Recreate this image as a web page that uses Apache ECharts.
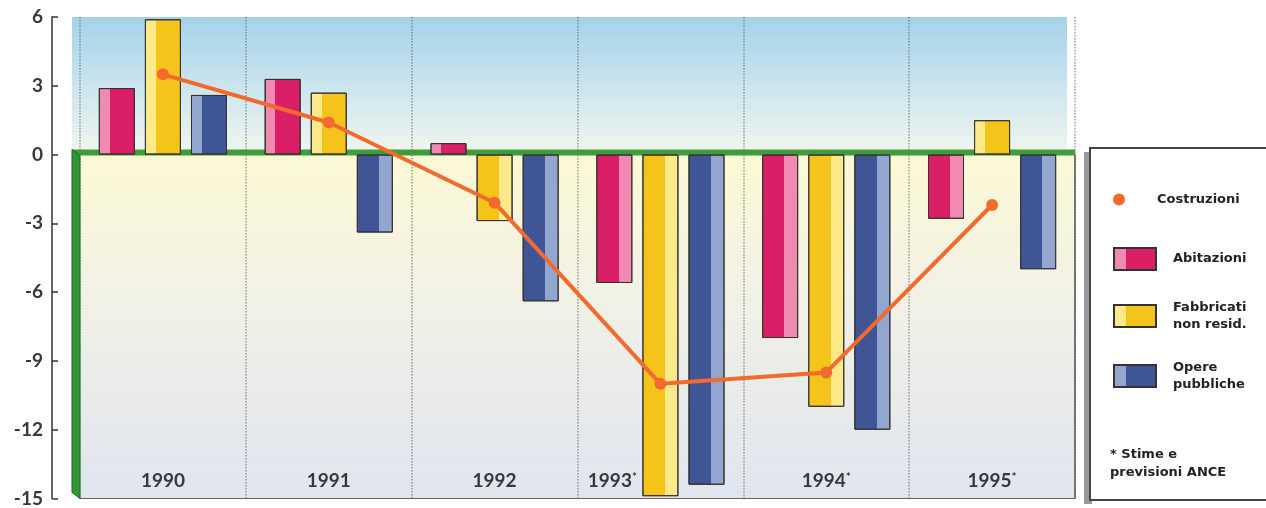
<!DOCTYPE html>
<html>
<head>
<meta charset="utf-8">
<script src="https://cdn.jsdelivr.net/npm/echarts@6/dist/echarts.min.js"></script>
<style>
html,body{margin:0;padding:0;background:#fff}
#main{width:1266px;height:508px}
</style>
</head>
<body>
<div id="main"></div>
<script>
var years = ['1990', '1991', '1992', '1993*', '1994*', '1995*']
var abitazioni = [2.9, 3.3, 0.5, -5.6, -8.0, -2.8]
var fabbricati = [5.9, 2.7, -2.9, -14.9, -11.0, 1.5]
var opere = [2.6, -3.4, -6.4, -14.4, -12.0, -5.0]
var costruzioni = [3.5, 1.4, -2.1, -10.0, -9.5, -2.2]
var yMin = -15, yMax = 6, yStep = 3

var gridLeft = 80, gridRight = 191, gridTop = 17, gridBottom = 6
var font = 'Lato'
var legFont = 'DejaVu Sans'

function shade(light, dark, v) {
  var stops = v >= 0
    ? [{ offset: 0, color: light }, { offset: 0.3, color: light }, { offset: 0.3, color: dark }, { offset: 1, color: dark }]
    : [{ offset: 0, color: dark }, { offset: 0.62, color: dark }, { offset: 0.62, color: light }, { offset: 1, color: light }]
  return { type: 'linear', x: 0, y: 0, x2: 1, y2: 0, colorStops: stops }
}

function bars(name, vals, light, dark) {
  return {
    name: name,
    type: 'bar',
    barWidth: 36,
    barGap: '28%',
    itemStyle: { color: shade(light, dark, 1), borderColor: '#333', borderWidth: 1 },
    data: vals.map(function (v) {
      return { value: v, itemStyle: { color: shade(light, dark, v) } }
    })
  }
}

function legText(n) {
  return n.split(' ').length > 1 && n !== 'Costruzioni'
    ? '{t|' + n.replace(' ', '}\n{t|') + '}'
    : '{t|' + n + '}'
}
var legRich = { t: { fontFamily: legFont, fontWeight: 'bold', fontSize: 13, lineHeight: 17, color: '#222', padding: [0, 0, 0, 12] } }

var chart = echarts.init(document.getElementById('main'))
chart.setOption({
  backgroundColor: '#fff',
  animation: false,
  grid: { left: gridLeft, right: gridRight, top: gridTop, bottom: gridBottom },
  legend: [
    {
      data: ['Costruzioni'],
      left: 1108, top: 188,
      itemWidth: 42, itemHeight: 12,
      icon: 'circle',
      formatter: legText,
      textStyle: { rich: legRich }
    },
    {
      data: ['Abitazioni', 'Fabbricati non resid.', 'Opere pubbliche'],
      orient: 'vertical',
      left: 1108, top: 242,
      itemWidth: 42, itemHeight: 22, itemGap: 30,
      icon: 'rect',
      formatter: legText,
      textStyle: { rich: legRich }
    }
  ],
  xAxis: {
    type: 'category',
    data: years,
    axisLine: { onZero: false, lineStyle: { color: '#666', width: 1 } },
    axisTick: { show: false },
    splitLine: { show: true, lineStyle: { color: 'rgba(80,80,80,0.55)', type: 'dotted', width: 1.5 } },
    axisLabel: {
      inside: true, margin: 8,
      formatter: function (v) {
        var y = v.replace('*', '')
        if (v === '1993*') return '{y|' + y + '}{s2|*}'
        return v.indexOf('*') >= 0 ? '{y|' + y + '}{s|*}' : '{y|' + y + '}'
      },
      rich: {
        y: { fontFamily: font, fontWeight: 'bold', fontSize: 19, color: '#383838' },
        s: { fontFamily: font, fontWeight: 'bold', fontSize: 12, color: '#383838', verticalAlign: 'top', padding: [0, 0, 6, 0] },
        s2: { fontFamily: font, fontWeight: 'bold', fontSize: 12, color: '#383838', verticalAlign: 'top', padding: [0, 96, 6, 0] }
      }
    }
  },
  yAxis: {
    type: 'value',
    min: yMin, max: yMax, interval: yStep,
    offset: 28,
    axisLine: { show: true, lineStyle: { color: '#333', width: 1.5 } },
    axisTick: { show: true, inside: true, length: 6, lineStyle: { color: '#333', width: 1.5 } },
    splitLine: { show: false },
    axisLabel: { margin: 9, fontFamily: font, fontWeight: 'bold', fontSize: 19, color: '#383838' }
  },
  series: [
    bars('Abitazioni', abitazioni, '#f08ab0', '#da1f66'),
    bars('Fabbricati non resid.', fabbricati, '#fbe98a', '#f5c41a'),
    bars('Opere pubbliche', opere, '#93a6d0', '#3f5596'),
    {
      name: 'Costruzioni',
      type: 'line',
      data: costruzioni,
      z: 5,
      symbol: 'circle',
      symbolSize: 12,
      itemStyle: { color: '#f26a2e' },
      lineStyle: { color: '#f26a2e', width: 4 }
    }
  ]
})

// decorations placed through the axis scale
var y0 = chart.convertToPixel({ yAxisIndex: 0 }, 0)
var yTop = chart.convertToPixel({ yAxisIndex: 0 }, yMax)
var yBot = chart.convertToPixel({ yAxisIndex: 0 }, yMin)
var xR = 1266 - gridRight
var pw = xR - gridLeft

chart.setOption({
  graphic: [
    {
      type: 'rect', z: -1, silent: true,
      shape: { x: gridLeft - 8, y: yTop, width: pw, height: y0 - yTop },
      style: { fill: { type: 'linear', x: 0, y: 0, x2: 0, y2: 1, colorStops: [
        { offset: 0, color: '#a4d2e9' }, { offset: 0.55, color: '#cfe6ef' }, { offset: 1, color: '#f1f6ee' }] } }
    },
    {
      type: 'rect', z: -1, silent: true,
      shape: { x: gridLeft, y: y0, width: pw, height: yBot - y0 },
      style: { fill: { type: 'linear', x: 0, y: 0, x2: 0, y2: 1, colorStops: [
        { offset: 0, color: '#fcf9d4' }, { offset: 0.35, color: '#f3f2e4' }, { offset: 1, color: '#e0e5ef' }] } }
    },
    {
      type: 'rect', z: 1, silent: true,
      shape: { x: gridLeft - 8, y: y0 - 5, width: pw + 8, height: 6 },
      style: { fill: '#3f9c3a' }
    },
    {
      type: 'polygon', z: 1, silent: true,
      shape: { points: [[gridLeft - 8, y0 - 5], [gridLeft, y0 + 1], [gridLeft, yBot], [gridLeft - 8, yBot - 6]] },
      style: { fill: '#2f9436', stroke: '#1d6a25', lineWidth: 1 }
    },
    {
      type: 'line', z: 1, silent: true,
      shape: { x1: xR, y1: y0, x2: xR, y2: yBot },
      style: { stroke: '#555', lineWidth: 1.5 }
    },
    {
      type: 'rect', z: 0, silent: true,
      shape: { x: 1084, y: 152, width: 8, height: 352 },
      style: { fill: '#9a9a9a' }
    },
    {
      type: 'rect', z: 0, silent: true,
      shape: { x: 1090, y: 148, width: 190, height: 352 },
      style: { fill: '#fff', stroke: '#444', lineWidth: 2 }
    },
    {
      type: 'text', z: 3, silent: true,
      left: 1110, top: 446,
      style: { text: '* Stime e\nprevisioni ANCE', fontFamily: legFont, fontWeight: 'bold', fontSize: 13, lineHeight: 18, fill: '#222' }
    }
  ]
})
</script>
</body>
</html>
